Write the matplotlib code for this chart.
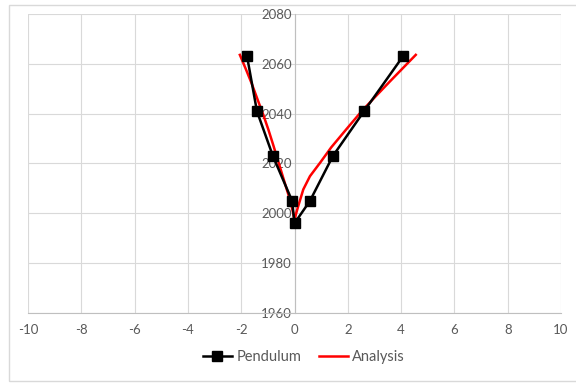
import matplotlib
matplotlib.use("Agg")
from matplotlib import pyplot as plt
from matplotlib.patches import Rectangle

# Pendulum measured points
pend_x = [-1.78, -1.41, -0.81, -0.09, 0.0, 0.58, 1.44, 2.61, 4.07]
pend_y = [2063, 2041, 2023, 2005, 1996, 2005, 2023, 2041, 2063]

# Analysis curve
ana_x = [-2.05, -1.83, -1.61, -1.39, -1.17, -0.98, -0.80, -0.62, -0.45,
         -0.29, -0.18, -0.10, -0.04, 0.0,
         0.05, 0.14, 0.33, 0.58, 0.96, 1.38, 1.95, 2.52, 3.05, 3.55, 4.05, 4.55]
ana_y = [2063.6, 2058.0, 2052.2, 2045.8, 2039.5, 2033.6, 2027.5, 2021.2, 2015.2,
         2009.6, 2005.8, 2002.5, 1999.6, 1997.0,
         1999.5, 2002.9, 2009.6, 2014.9, 2020.3, 2026.5, 2033.8, 2041.0, 2047.0, 2052.6, 2058.1, 2063.6]

x_ticks = list(range(-10, 11, 2))
y_ticks = list(range(1960, 2081, 20))

plt.rcParams['font.family'] = ['Lato', 'DejaVu Sans']
plt.rcParams['axes.unicode_minus'] = False
grey = "#595959"

fig = plt.figure(figsize=(5.76, 3.83), dpi=100)
ax = fig.add_axes([28 / 576, 1 - 313 / 383, (561 - 28) / 576, (313 - 14) / 383])

ax.plot(ana_x, ana_y, color="#ff0000", lw=1.8, label="Analysis", zorder=3,
        solid_joinstyle="round")
ax.plot(pend_x, pend_y, color="black", lw=1.8, marker="s", markersize=6.5,
        label="Pendulum", zorder=4)

ax.set_xlim(-10, 10)
ax.set_ylim(1960, 2080)
ax.set_xticks(x_ticks)
ax.set_yticks(y_ticks)
ax.grid(True, color="#d9d9d9", lw=0.8)
ax.set_axisbelow(True)

for s in ["top", "right"]:
    ax.spines[s].set_visible(False)
ax.spines["left"].set_position(("data", 0))
ax.spines["left"].set_color("#bfbfbf")
ax.spines["bottom"].set_color("#bfbfbf")
ax.tick_params(length=0, labelsize=9.5, colors=grey)
ax.tick_params(axis="x", pad=8)
ax.tick_params(axis="y", pad=2)

handles, labels = ax.get_legend_handles_labels()
fig.legend(handles[::-1], labels[::-1], loc="center", bbox_to_anchor=(304 / 576, 1 - 357 / 383),
           ncol=2, frameon=False, fontsize=10.5, labelcolor=grey,
           handlelength=2.0, columnspacing=1.2, handletextpad=0.3)

fig.patches.append(Rectangle((9 / 576, 1 - 381 / 383), 1.2, (381 - 5) / 383,
                             transform=fig.transFigure, fill=False,
                             edgecolor="#d9d9d9", lw=1))

fig.savefig("out.png", dpi=100)
